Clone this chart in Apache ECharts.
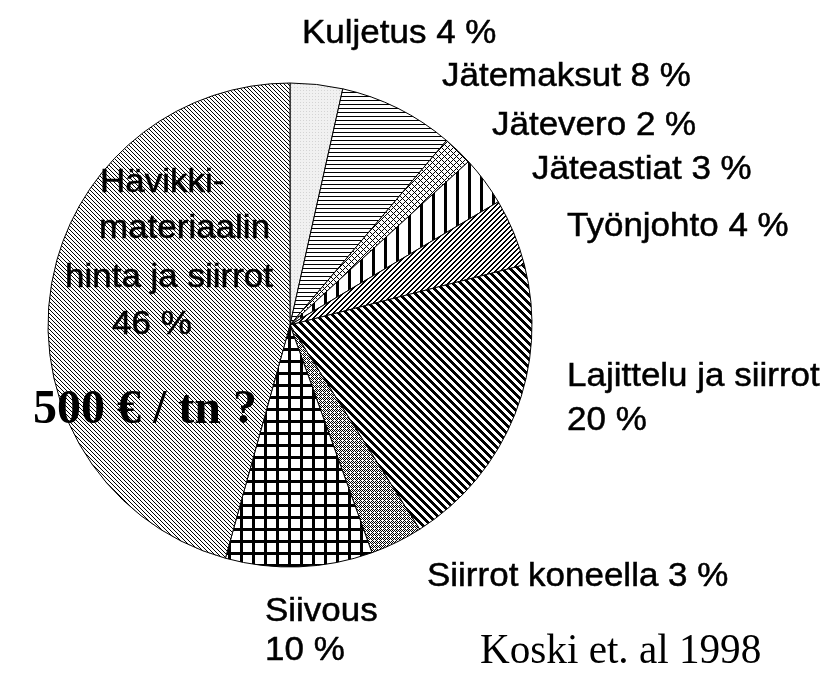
<!DOCTYPE html>
<html>
<head>
<meta charset="utf-8">
<script src="https://cdn.jsdelivr.net/npm/echarts@6/dist/echarts.min.js"></script>
<style>
  html, body { margin: 0; background: #fff; }
  #chart { width: 840px; height: 688px; }
</style>
</head>
<body>
<div id="chart"></div>
<script>
// slice names and shares (%), clockwise from 12 o'clock
const categories = ['Kuljetus', 'Jätemaksut', 'Jätevero', 'Jäteastiat', 'Työnjohto',
  'Lajittelu ja siirrot', 'Siirrot koneella', 'Siivous', 'Hävikkimateriaalin hinta ja siirrot'];
const shares = [3.5, 7.7, 2, 3.3, 4.5, 20, 3.5, 9.8, 45.7];
// label texts as printed (one entry per line)
const labelLines = [
  'Kuljetus 4 %', 'Jätemaksut 8 %', 'Jätevero 2 %', 'Jäteastiat 3 %', 'Työnjohto 4 %',
  'Lajittelu ja siirrot', '20 %', 'Siirrot koneella 3 %', 'Siivous', '10 %',
  'Hävikki-', 'materiaalin', 'hinta ja siirrot', '46 %'
];
const noteText = '500 € / tn ?';
const sourceText = 'Koski et. al 1998';

// where each label line sits: [left x, middle y]
const labelPos = [
  [302, 34], [442, 77], [492, 126], [532, 170], [567, 227],
  [567, 377], [567, 421], [427, 577], [265, 612], [265, 651],
  [100, 183], [99, 229], [65, 278], [112, 325]
];

// small canvas tiles used as fill patterns
function makePattern(w, h, test, ink, bg) {
  const c = document.createElement('canvas');
  c.width = w; c.height = h;
  const ctx = c.getContext('2d');
  ctx.fillStyle = bg || '#fff';
  ctx.fillRect(0, 0, w, h);
  for (let x = 0; x < w; x++) {
    for (let y = 0; y < h; y++) {
      const col = test(x, y);
      if (col) {
        ctx.fillStyle = col === true ? (ink || '#000') : col;
        ctx.fillRect(x, y, 1, 1);
      }
    }
  }
  return { image: c, repeat: 'repeat' };
}

const fills = [
  // Kuljetus: very light dotted grey
  makePattern(3, 3, (x, y) => x === 0 && y === 0, '#d4d4d4', '#f1f1f1'),
  // Jätemaksut: horizontal lines
  makePattern(4, 4, (x, y) => y === 0),
  // Jätevero: small diagonal grid
  makePattern(6, 6, (x, y) => (x + y) % 6 === 0 || (x - y + 6) % 6 === 0),
  // Jäteastiat: thick vertical bars
  makePattern(12, 4, (x, y) => x < 3),
  // Työnjohto: dense upward diagonals
  makePattern(5, 5, (x, y) => (x + y) % 5 < 2),
  // Lajittelu ja siirrot: downward diagonals
  makePattern(8, 8, (x, y) => (x - y + 8) % 8 < 4),
  // Siirrot koneella: dotted diamonds
  makePattern(4, 4, (x, y) => (x + y) % 2 === 0 && !(x === 2 && y === 0)),
  // Siivous: coarse square grid
  makePattern(12, 12, (x, y) => x < 3 || y < 3),
  // Hävikki: fine downward diagonals
  makePattern(4, 4, (x, y) => (x - y + 4) % 4 === 0)
];

const pieData = categories.map((name, i) => ({
  name: name,
  value: shares[i],
  itemStyle: { color: fills[i] }
}));

const textEls = labelLines.map((t, i) => ({
  type: 'text',
  x: labelPos[i][0],
  y: labelPos[i][1],
  scaleX: 1.06,
  z: 10,
  style: {
    text: t,
    x: 0, y: 0,
    fill: '#000',
    stroke: '#000',
    lineWidth: 0.5,
    font: '33px "Liberation Sans", Arial, sans-serif',
    align: 'left',
    verticalAlign: 'middle'
  }
}));

textEls.push({
  type: 'text', x: 33, y: 411, z: 10,
  style: {
    text: noteText, x: 0, y: 0, fill: '#000',
    font: 'bold 48px "Liberation Serif", "Times New Roman", serif',
    align: 'left', verticalAlign: 'middle'
  }
});
textEls.push({
  type: 'text', x: 480, y: 652, z: 10, scaleX: 0.98,
  style: {
    text: sourceText, x: 0, y: 0, fill: '#000',
    font: '42px "Liberation Serif", "Times New Roman", serif',
    align: 'left', verticalAlign: 'middle'
  }
});

const chart = echarts.init(document.getElementById('chart'));
chart.setOption({
  animation: false,
  backgroundColor: '#fff',
  series: [{
    type: 'pie',
    center: [290, 325],
    radius: 242,
    startAngle: 90,
    clockwise: true,
    silent: true,
    data: pieData,
    label: { show: false },
    labelLine: { show: false },
    itemStyle: { borderColor: '#000', borderWidth: 1 }
  }],
  graphic: textEls
});
</script>
</body>
</html>
